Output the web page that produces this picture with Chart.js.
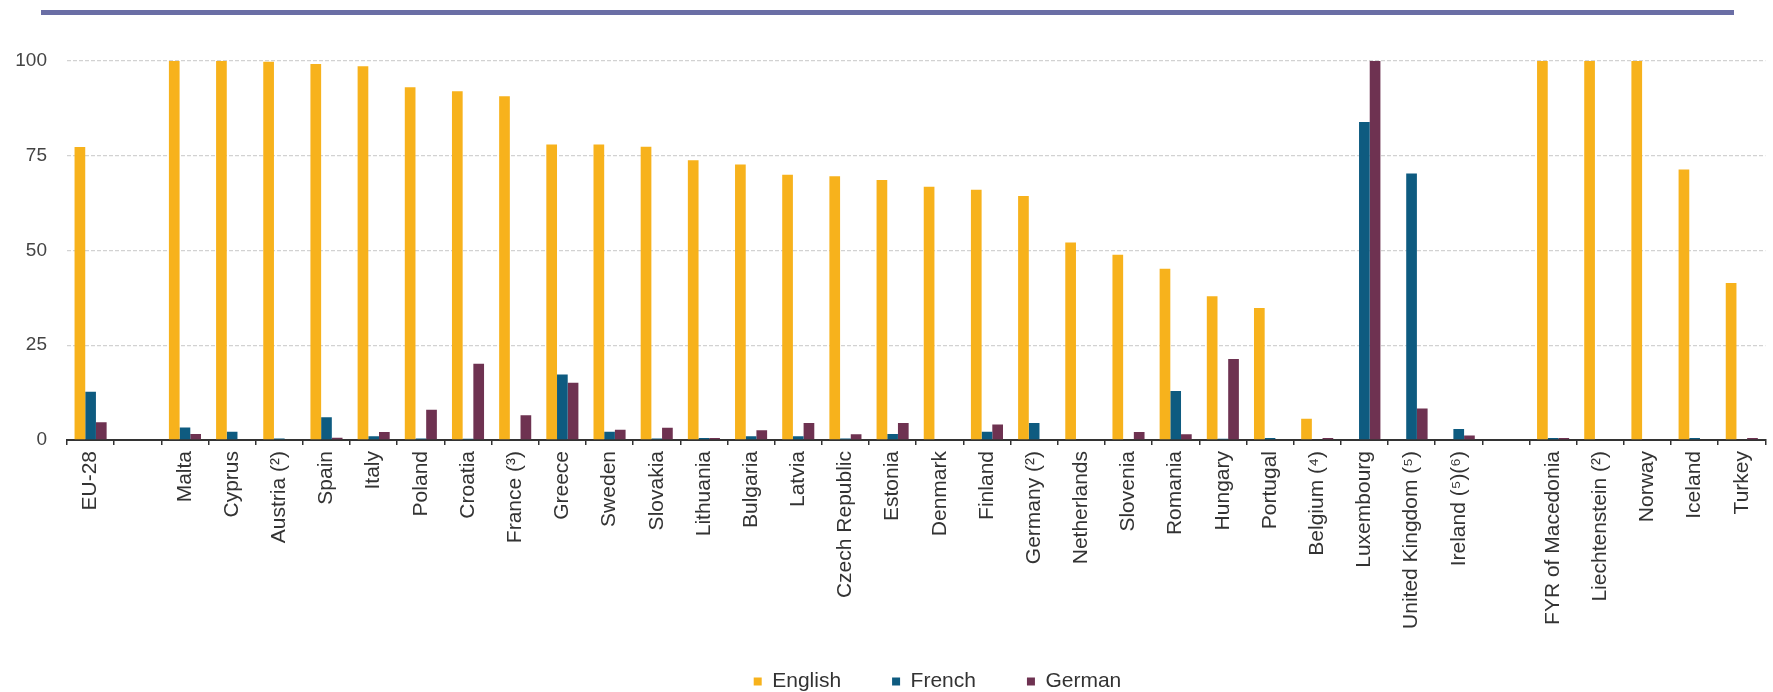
<!DOCTYPE html>
<html>
<head>
<meta charset="utf-8">
<script src="https://cdn.jsdelivr.net/npm/chart.js@4.4.1/dist/chart.umd.min.js"></script>
<style>
  html, body { margin: 0; padding: 0; background: #ffffff; }
  #wrap { position: relative; width: 1773px; height: 692px; overflow: hidden; }
  #rule { position: absolute; left: 41px; top: 10px; width: 1693px; height: 5px; background: #6a6ea5; }
  #box { position: absolute; left: 0; top: 0; width: 1773px; height: 692px; }
</style>
</head>
<body>
<div id="wrap">
  <div id="rule"></div>
  <div id="box"><canvas id="c"></canvas></div>
</div>
<script>
const categories = [
  'EU-28', '', 'Malta', 'Cyprus', 'Austria (²)', 'Spain', 'Italy', 'Poland', 'Croatia', 'France (³)',
  'Greece', 'Sweden', 'Slovakia', 'Lithuania', 'Bulgaria', 'Latvia', 'Czech Republic', 'Estonia',
  'Denmark', 'Finland', 'Germany (²)', 'Netherlands', 'Slovenia', 'Romania', 'Hungary', 'Portugal',
  'Belgium (⁴)', 'Luxembourg', 'United Kingdom (⁵)', 'Ireland (⁵)(⁶)', '', 'FYR of Macedonia',
  'Liechtenstein (²)', 'Norway', 'Iceland', 'Turkey'
];
const english = [
  77.3, null, 100, 100, 99.8, 99.2, 98.6, 93.1, 92.0, 90.7,
  78.0, 78.0, 77.4, 73.8, 72.7, 70.0, 69.6, 68.6,
  66.8, 66.0, 64.4, 52.1, 48.9, 45.2, 37.9, 34.8,
  5.6, 0, null, 0, null, 100,
  100, 100, 71.4, 41.4
];
const french = [
  12.7, null, 3.3, 2.2, 0.4, 6.0, 1.0, 0.4, 0.3, null,
  17.3, 2.2, 0.4, 0.5, 1.0, 1.0, 0.4, 1.6,
  0, 2.2, 4.5, 0, 0, 12.9, 0.3, 0.5,
  0, 83.9, 70.3, 2.9, null, 0.5,
  0, 0, 0.5, 0
];
const german = [
  4.7, null, 1.6, 0, null, 0.6, 2.1, 8.0, 20.1, 6.5,
  15.1, 2.7, 3.2, 0.5, 2.6, 4.5, 1.5, 4.5,
  0, 4.1, null, 0, 2.1, 1.5, 21.4, 0,
  0.5, 100, 8.3, 1.2, null, 0.5,
  null, 0, 0, 0.5
];
const seriesNames = ['English', 'French', 'German'];
const yTicks = [0, 25, 50, 75, 100];

const FONT = '"Liberation Sans", Arial, sans-serif';

const legendPlace = {
  id: 'legendPlace',
  afterLayout(chart) {
    const l = chart.legend;
    if (!l) return;
    l.top = 620; l.bottom = chart.height;
    l.left += 44; l.right += 44;
  }
};

new Chart(document.getElementById('c'), {
  type: 'bar',
  data: {
    labels: categories,
    datasets: [
      { label: seriesNames[0], data: english, backgroundColor: '#f7b21c', borderWidth: 0 },
      { label: seriesNames[1], data: french, backgroundColor: '#0e5b80', borderWidth: 0 },
      { label: seriesNames[2], data: german, backgroundColor: '#6e3251', borderWidth: 0 }
    ]
  },
  options: {
    responsive: true,
    maintainAspectRatio: false,
    animation: false,
    layout: { padding: { top: 61, left: 14, right: 0, bottom: 0 } },
    datasets: { bar: { categoryPercentage: 0.68, barPercentage: 1.0 } },
    plugins: {
      tooltip: { enabled: false },
      legend: {
        position: 'bottom',
        maxHeight: 64,
        labels: {
          boxWidth: 8,
          boxHeight: 8,
          padding: 51,
          color: '#333333',
          font: { family: FONT, size: 21 }
        }
      }
    },
    scales: {
      x: {
        afterFit(scale) { scale.height = 188; },
        grid: {
          display: true,
          offset: true,
          drawOnChartArea: false,
          drawTicks: true,
          tickLength: 5,
          color: '#333333',
          lineWidth: 1.5
        },
        border: { display: true, color: '#333333', width: 2 },
        ticks: {
          autoSkip: false,
          maxRotation: 90,
          minRotation: 90,
          padding: 6,
          color: '#333333',
          font: { family: FONT, size: 21 }
        }
      },
      y: {
        min: 0,
        max: 100,
        afterFit(scale) { scale.width = 53; },
        afterBuildTicks(scale) { scale.ticks = yTicks.map(v => ({ value: v })); },
        grid: {
          color: '#d2d2d2',
          lineWidth: 1.3,
          drawTicks: false
        },
        border: { display: false, dash: [4, 2] },
        ticks: {
          padding: 20,
          color: '#444444',
          font: { family: FONT, size: 19 }
        }
      }
    }
  },
  plugins: [legendPlace]
});
</script>
</body>
</html>
